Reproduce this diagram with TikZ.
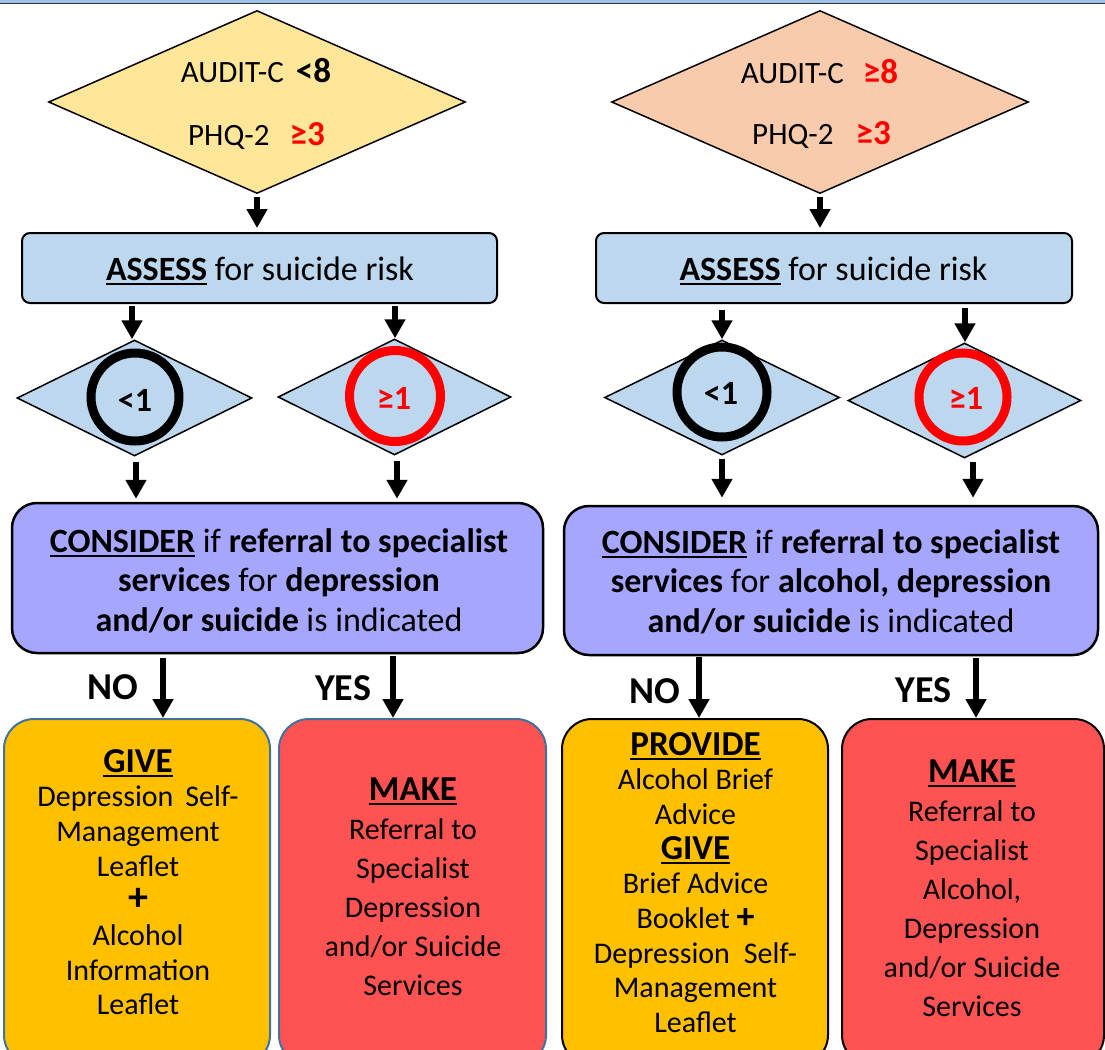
\documentclass[tikz,border=0pt]{standalone}
\usepackage{fontspec}
\setmainfont{Carlito}
\usetikzlibrary{arrows.meta,shapes.geometric}
\definecolor{yel}{HTML}{FFE699}
\definecolor{ora}{HTML}{F8CBAD}
\definecolor{lblue}{HTML}{BDD7EE}
\definecolor{lav}{HTML}{A6A6FF}
\definecolor{gold}{HTML}{FFC000}
\definecolor{redbox}{HTML}{FF5353}
\definecolor{steel}{HTML}{41719C}
\definecolor{topbar}{HTML}{9DC3E6}
\definecolor{pure}{HTML}{FF0000}
\newsavebox\ulbox
\newcommand\myul[1]{\sbox\ulbox{#1}\rlap{\rule[-5pt]{\wd\ulbox}{2pt}}\usebox\ulbox}
\newcommand\lines[1]{\begin{tabular}[t]{@{}c@{}}#1\end{tabular}}
\newcommand\bignum[1]{{\fontsize{35}{36}\selectfont\textbf{#1}}}
\begin{document}
\begin{tikzpicture}[x=1pt,y=-1pt,
  arr/.style={line width=5.5pt,-{Triangle[width=20pt,length=19pt]}},
  dia/.style={draw=black,line width=1.5pt,shape=diamond,inner sep=0pt},
  abox/.style={draw=black,line width=2pt,fill=lblue,rounded corners=8pt,inner sep=0pt},
  cbox/.style={draw=black,line width=2.5pt,fill=lav,rounded corners=25pt,inner sep=0pt},
  obox/.style={line width=2pt,rounded corners=30pt,inner sep=0pt,minimum height=346pt},
  ring/.style={draw,line width=9pt,circle,inner sep=0pt},
  txt/.style={inner sep=0pt,anchor=base},
  dtxt/.style={txt,font=\fontsize{31}{36}\selectfont},
  atxt/.style={txt,font=\fontsize{34}{40}\selectfont},
  ctxt/.style={txt,font=\fontsize{34}{39.5}\selectfont},
  stxt/.style={inner sep=0pt,font=\fontsize{34}{38}\selectfont\bfseries},
  ntxt/.style={txt,font=\fontsize{38}{44}\selectfont\bfseries},
  btxt/.style={txt,font=\fontsize{30}{34.7}\selectfont},
  rtxt/.style={txt,font=\fontsize{30}{39}\selectfont}]
\clip (0,0) rectangle (1105,1049);
\fill[white] (0,0) rectangle (1105,1049);
\fill[topbar] (0,0) rectangle (1105,3);
\draw[line width=1.5pt,black!80] (0,3.5) -- (1105,3.5);

% top diamonds
\node[dia,fill=yel,minimum width=417pt,minimum height=183pt] (dL) at (257,102) {};
\node[dia,fill=ora,minimum width=417pt,minimum height=183pt] (dR) at (820,102) {};
\node[dtxt] (tL1) at (256,82) {AUDIT-C\hspace{12pt}\bignum{<8}};
\node[dtxt] (tL2) at (256.5,145) {PHQ-2\hspace{20pt}\textcolor{pure}{\bignum{≥3}}};
\node[dtxt] (tR1) at (819.5,83) {AUDIT-C\hspace{19pt}\textcolor{pure}{\bignum{≥8}}};
\node[dtxt] (tR2) at (821.5,144) {PHQ-2\hspace{22pt}\textcolor{pure}{\bignum{≥3}}};

% assess boxes
\node[abox,minimum width=475pt,minimum height=70pt] (aL) at (259.5,268) {};
\node[abox,minimum width=476pt,minimum height=70pt] (aR) at (834,268) {};
\node[atxt] (taL) at (260,280) {\myul{\textbf{ASSESS}} for suicide risk};
\node[atxt] (taR) at (833.5,280) {\myul{\textbf{ASSESS}} for suicide risk};

% small diamonds
\node[dia,fill=lblue,minimum width=235pt,minimum height=116pt] (s1) at (134.5,398) {};
\node[dia,fill=lblue,minimum width=233pt,minimum height=116pt] (s2) at (394.5,397) {};
\node[dia,fill=lblue,minimum width=235pt,minimum height=115pt] (s3) at (722,397.5) {};
\node[dia,fill=lblue,minimum width=233pt,minimum height=115pt] (s4) at (964.5,400.5) {};
\node[ring,draw=black,minimum size=88pt] (c1) at (135,397) {};
\node[ring,draw=pure,minimum size=91pt] (c2) at (395,396) {};
\node[ring,draw=black,minimum size=90pt] (c3) at (722,392) {};
\node[ring,draw=pure,minimum size=88pt] (c4) at (963,397) {};
\node[stxt] (l1) at (135,400) {<1};
\node[stxt,text=pure] (l2) at (394,398) {≥1};
\node[stxt] (l3) at (721,393) {<1};
\node[stxt,text=pure] (l4) at (966,398) {≥1};

% consider boxes
\node[cbox,minimum width=531pt,minimum height=150pt] (kL) at (277.5,578) {};
\node[cbox,minimum width=534pt,minimum height=149pt] (kR) at (831,580.5) {};
\node[ctxt] (tkL) at (279,552) {\lines{\myul{\textbf{CONSIDER}} if \textbf{referral to specialist}\\
  \textbf{services} for \textbf{depression}\\ \textbf{and/or suicide} is indicated}};
\node[ctxt] (tkR) at (831,553) {\lines{\myul{\textbf{CONSIDER}} if \textbf{referral to specialist}\\
  \textbf{services} for \textbf{alcohol, depression}\\ \textbf{and/or suicide} is indicated}};

% outcome boxes
\node[obox,draw=steel,fill=gold,minimum width=266pt] (gL) at (137,892) {};
\node[obox,draw=steel,fill=redbox,minimum width=267pt] (mL) at (412.5,892) {};
\node[obox,draw=black,fill=gold,minimum width=266pt] (pR) at (695,892) {};
\node[obox,draw=black,fill=redbox,minimum width=262pt] (mR) at (973,892) {};

\node[btxt] (tgL) at (138,772) {\lines{{\fontsize{35}{34.7}\selectfont\myul{\textbf{GIVE}}}\\
  Depression\hspace{12pt}Self-\\ Management\\ Leaflet\\ {\fontsize{40}{34.7}\selectfont\textbf{+}}\\
  Alcohol\\ Information\\ Leaflet}};
\node[rtxt] (tmL) at (413,800) {\lines{{\fontsize{35}{39}\selectfont\myul{\textbf{MAKE}}}\\
  Referral to\\ Specialist\\ Depression\\ and/or Suicide\\ Services}};
\node[btxt] (tpR) at (695.5,755) {\lines{{\fontsize{35}{34.7}\selectfont\myul{\textbf{PROVIDE}}}\\
  Alcohol Brief\\ Advice\\ {\fontsize{35}{34.7}\selectfont\myul{\textbf{GIVE}}}\\ Brief Advice\\
  Booklet {\fontsize{36}{34.7}\selectfont\textbf{+}}\\ Depression\hspace{14pt}Self-\\ Management\\ Leaflet}};
\node[rtxt] (tmR) at (972,782) {\lines{{\fontsize{35}{38.5}\selectfont\myul{\textbf{MAKE}}}\\
  Referral to\\ Specialist\\ Alcohol,\\ Depression\\ and/or Suicide\\ Services}};

\node[ntxt] (noL) at (113,699) {NO};
\node[ntxt] (yesL) at (343,700) {YES};
\node[ntxt] (noR) at (655,703) {NO};
\node[ntxt] (yesR) at (923.5,702) {YES};

% arrow x positions
\coordinate (x1) at (132,0);
\coordinate (x2) at (395,0);
\coordinate (x3) at (722,0);
\coordinate (x4) at (965,0);
\coordinate (y1) at (136,0);
\coordinate (y2) at (397,0);
\coordinate (y3) at (722,0);
\coordinate (y4) at (973,0);
\coordinate (z1) at (163,0);
\coordinate (z2) at (393,0);
\coordinate (z3) at (699,0);
\coordinate (z4) at (976,0);

% arrows
\draw[arr,shorten <=3pt,shorten >=4pt] (dL.south) -- (aL.north -| dL.south);
\draw[arr,shorten <=3pt,shorten >=4pt] (dR.south) -- (aR.north -| dR.south);
\draw[arr,shorten <=2pt] (aL.south -| x1) -- (s1.north -| x1);
\draw[arr,shorten <=2pt] (aL.south -| x2) -- (s2.north -| x2);
\draw[arr,shorten <=6pt] (aR.south -| x3) -- (s3.north -| x3);
\draw[arr,shorten <=4pt] (aR.south -| x4) -- (s4.north -| x4);
\draw[arr,shorten <=5pt,shorten >=3pt] (s1.south -| y1) -- (kL.north -| y1);
\draw[arr,shorten <=5pt,shorten >=3pt] (s2.south -| y2) -- (kL.north -| y2);
\draw[arr,shorten <=3pt,shorten >=7pt] (s3.south -| y3) -- (kR.north -| y3);
\draw[arr,shorten <=3pt,shorten >=7pt] (s4.south -| y4) -- (kR.north -| y4);
\draw[arr,shorten <=4pt] (kL.south -| z1) -- (gL.north -| z1);
\draw[arr,shorten <=2pt] (kL.south -| z2) -- (mL.north -| z2);
\draw[arr,shorten <=1pt] (kR.south -| z3) -- (pR.north -| z3);
\draw[arr,shorten <=2pt] (kR.south -| z4) -- (mR.north -| z4);
\end{tikzpicture}
\end{document}
